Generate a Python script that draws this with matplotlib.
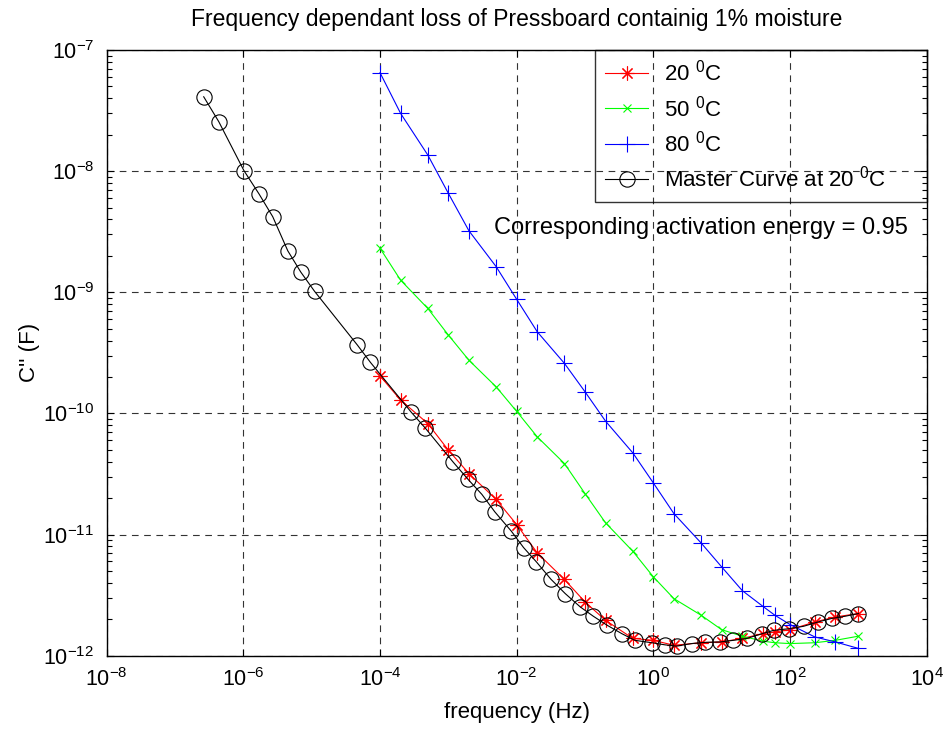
import matplotlib
matplotlib.use("Agg")
import matplotlib.pyplot as plt
from matplotlib.ticker import FixedLocator, NullLocator, LogFormatterSciNotation

plt.rcParams['font.family'] = ['Liberation Sans', 'DejaVu Sans']
plt.rcParams['mathtext.fontset'] = 'custom'
plt.rcParams['mathtext.rm'] = 'Liberation Sans'
plt.rcParams['mathtext.it'] = 'Liberation Sans:italic'
plt.rcParams['mathtext.bf'] = 'Liberation Sans:bold'

# ---- data ----
freq = [1e-4, 2e-4, 5e-4, 1e-3, 2e-3, 5e-3, 1e-2, 2e-2, 5e-2, 0.1, 0.2, 0.5,
        1, 2, 5, 10, 20, 40, 60, 100, 230, 460, 1000]
c20 = [2.04e-10, 1.29e-10, 8.26e-11, 4.98e-11, 3.19e-11, 1.95e-11, 1.21e-11,
       7.06e-12, 4.26e-12, 2.78e-12, 1.96e-12, 1.39e-12, 1.34e-12, 1.22e-12,
       1.28e-12, 1.30e-12, 1.39e-12, 1.52e-12, 1.57e-12, 1.64e-12, 1.90e-12,
       2.09e-12, 2.23e-12]
c50 = [2.31e-9, 1.26e-9, 7.36e-10, 4.44e-10, 2.75e-10, 1.66e-10, 1.04e-10,
       6.41e-11, 3.86e-11, 2.18e-11, 1.25e-11, 7.29e-12, 4.48e-12, 2.96e-12,
       2.16e-12, 1.64e-12, 1.45e-12, 1.32e-12, 1.28e-12, 1.26e-12, 1.28e-12,
       1.34e-12, 1.45e-12]
c80 = [6.50e-8, 3.00e-8, 1.36e-8, 6.56e-9, 3.22e-9, 1.63e-9, 8.75e-10,
       4.72e-10, 2.59e-10, 1.51e-10, 8.63e-11, 4.73e-11, 2.67e-11, 1.49e-11,
       8.53e-12, 5.41e-12, 3.45e-12, 2.56e-12, 2.16e-12, 1.81e-12, 1.43e-12,
       1.30e-12, 1.15e-12]
master_freq = [2.63e-7, 4.37e-7, 1.02e-6, 1.70e-6, 2.69e-6, 4.47e-6, 6.92e-6,
               1.10e-5, 4.68e-5, 7.24e-5, 2.88e-4, 4.57e-4, 1.17e-3, 1.95e-3,
               3.09e-3, 4.79e-3, 8.32e-3, 1.26e-2, 1.95e-2, 3.16e-2, 5.13e-2,
               8.51e-2, 0.132, 0.209, 0.347, 0.537, 0.955, 1.48, 2.19, 3.63,
               5.75, 9.55, 14.8, 23.4, 38.9, 57.5, 95.5, 158, 257, 407, 646,
               1000]
master_c = [4.11e-8, 2.56e-8, 1.01e-8, 6.47e-9, 4.21e-9, 2.20e-9, 1.47e-9,
            1.02e-9, 3.66e-10, 2.64e-10, 1.02e-10, 7.60e-11, 3.98e-11,
            2.85e-11, 2.15e-11, 1.54e-11, 1.07e-11, 7.82e-12, 5.94e-12,
            4.29e-12, 3.26e-12, 2.53e-12, 2.12e-12, 1.79e-12, 1.52e-12,
            1.34e-12, 1.28e-12, 1.23e-12, 1.20e-12, 1.26e-12, 1.29e-12,
            1.30e-12, 1.34e-12, 1.39e-12, 1.52e-12, 1.62e-12, 1.67e-12,
            1.75e-12, 1.90e-12, 2.03e-12, 2.12e-12, 2.23e-12]
xticks = [1e-8, 1e-6, 1e-4, 1e-2, 1e0, 1e2, 1e4]
yticks = [1e-12, 1e-11, 1e-10, 1e-9, 1e-8, 1e-7]
yminor = [m * d for d in [1e-12, 1e-11, 1e-10, 1e-9, 1e-8] for m in range(2, 10)]
labels = ["20 $^0$C", "50 $^0$C", "80 $^0$C", "Master Curve at 20 $^0$C"]
title = "Frequency dependant loss of Pressboard containig 1% moisture"
annotation = "Corresponding activation energy = 0.95"

# ---- figure ----
fig = plt.figure(figsize=(9.45, 7.29), dpi=100)
ax = fig.add_axes([0.1129, 0.1005, 0.8677, 0.8309])

ast = (8, 2, 0)
ax.plot(freq, c20, color='#ff0000', lw=0.8, marker=ast, ms=10, mew=0.8, label=labels[0])
ax.plot(freq, c50, color='#00ff00', lw=0.8, marker='x', ms=6, mew=0.8, label=labels[1])
ax.plot(freq, c80, color='#0000ff', lw=0.8, marker='+', ms=11, mew=0.8, label=labels[2])
ax.plot(master_freq, master_c, color='black', lw=0.8, marker='o', ms=11,
        mfc='none', mew=0.8, label=labels[3])

ax.set_xscale('log')
ax.set_yscale('log')
ax.set_xlim(1e-8, 1e4)
ax.set_ylim(1e-12, 1e-7)
ax.xaxis.set_major_locator(FixedLocator(xticks))
ax.xaxis.set_minor_locator(NullLocator())
ax.xaxis.set_major_formatter(LogFormatterSciNotation())
ax.yaxis.set_major_locator(FixedLocator(yticks))
ax.yaxis.set_minor_locator(FixedLocator(yminor))
ax.yaxis.set_major_formatter(LogFormatterSciNotation())
ax.yaxis.set_minor_formatter(plt.NullFormatter())

ax.tick_params(which='both', direction='in', top=True, right=True, width=0.8)
ax.tick_params(which='major', length=5, labelsize=15.5)
ax.tick_params(axis='x', which='major', pad=9)
ax.tick_params(axis='y', which='major', pad=9)
ax.tick_params(which='minor', length=3.5)
for s in ax.spines.values():
    s.set_linewidth(1.0)

ax.grid(True, which='major', color='0.2', lw=0.8, linestyle=(0, (6, 5)))

ax.set_title(title, fontsize=16.5, pad=17)
ax.set_xlabel("frequency (Hz)", fontsize=16, labelpad=8)
ax.set_ylabel("C'' (F)", fontsize=16, labelpad=2)

leg = ax.legend(loc='upper left', bbox_to_anchor=(0.5955, 0.749, 0.4045, 0.251),
                mode='expand', borderaxespad=0,
                fontsize=16, frameon=True, fancybox=False, facecolor='none',
                edgecolor='black', handlelength=1.95, handletextpad=0.7,
                labelspacing=0.42, borderpad=0.45)
leg.get_frame().set_linewidth(1.0)

ax.text(0.4723, 0.706, annotation, transform=ax.transAxes, fontsize=17,
        ha='left', va='center')

fig.savefig("out.png", dpi=100)
